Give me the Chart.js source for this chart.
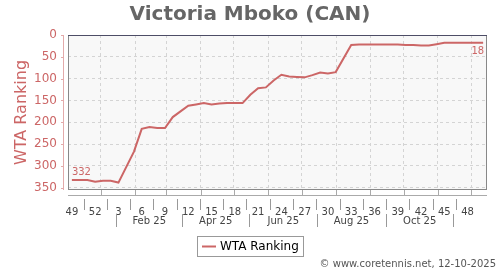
<!DOCTYPE html>
<html>
<head>
<meta charset="utf-8">
<script src="https://cdn.jsdelivr.net/npm/chart.js@4.4.1/dist/chart.umd.min.js"></script>
<style>
  html, body { margin: 0; padding: 0; background: #fff; }
</style>
</head>
<body>
<canvas id="rankChart" width="500" height="270"></canvas>
<script>
// semanas (numero ISO) de 49/2024 ate 50/2025
const weeks = [49, 50, 51, 52, 1, 2, 3, 4, 5, 6, 7, 8, 9, 10, 11, 12, 13, 14, 15, 16,
  17, 18, 19, 20, 21, 22, 23, 24, 25, 26, 27, 28, 29, 30, 31, 32, 33, 34, 35, 36,
  37, 38, 39, 40, 41, 42, 43, 44, 45, 46, 47, 48, 49, 50];
// ranking WTA por semana (null = semana sem atualizacao)
const ranking = [332, 332, 332, 336, 334, 334, 338, null, 267, 215, 211, 213, 213, 188,
  175, 162, 159, 156, 159, 157, 156, 156, 156, 137, 122, 120, 104, 91, 95, 96,
  97, 92, 86, 88, 85, null, 23, 22, 22, 22, 22, 22, 22, 23, 23, 24, 24, 21,
  18, 18, 18, 18, 18, 18];
const yTicks = [0, 50, 100, 150, 200, 250, 300, 350];
const labelEvery = 3;
// inicio de cada mes, em unidades de semana (indice)
const monthStarts = [3.75, 8.18, 12.18, 16.61, 20.89, 25.32, 29.61, 34.04, 38.46, 42.75, 47.18, 51.46];
// meio dos meses impares -> separadores da segunda linha
const monthBreaks = [5.75, 14.18, 22.89, 31.61, 40.46, 49.18];
const monthLabels = ['Feb 25', 'Apr 25', 'Jun 25', 'Aug 25', 'Oct 25'];

const rosy = '#cc6666';
const gridColor = '#d4d4d4';
const FONT = "'DejaVu Sans', sans-serif";
Chart.defaults.font.family = FONT;

const points = ranking.map((r, i) => ({ x: i, y: r }));
const tickIdx = weeks.map((w, i) => i).filter(i => i % labelEvery === 0);

const decor = {
    id: 'decor',
    beforeDraw(chart) {
        const { ctx, chartArea: a } = chart;
        ctx.save();
        ctx.fillStyle = '#fff';
        ctx.fillRect(0, 0, chart.width, chart.height);
        ctx.fillStyle = '#f8f8f8';
        ctx.fillRect(a.left, a.top, a.right - a.left, a.bottom - a.top);
        ctx.restore();
    },
    afterDraw(chart) {
        const { ctx, chartArea: a } = chart;
        const xs = chart.scales.x, ys = chart.scales.y;
        ctx.save();

        // moldura do grafico
        ctx.strokeStyle = '#888';
        ctx.lineWidth = 1;
        ctx.strokeRect(a.left + 0.5, a.top + 0.5, a.right - a.left - 1, a.bottom - a.top - 1);
        ctx.strokeStyle = '#4d4d66';
        ctx.beginPath(); ctx.moveTo(a.left, a.top + 0.5); ctx.lineTo(a.right, a.top + 0.5); ctx.stroke();

        // eixo y (linha rosada deslocada)
        ctx.strokeStyle = '#e3aaaa';
        ctx.beginPath(); ctx.moveTo(a.left - 4.5, a.top); ctx.lineTo(a.left - 4.5, a.bottom); ctx.stroke();
        yTicks.forEach(v => {
            const py = Math.round(ys.getPixelForValue(v)) + 0.5;
            ctx.beginPath(); ctx.moveTo(a.left - 7, py); ctx.lineTo(a.left - 4, py); ctx.stroke();
        });

        // eixo x
        ctx.strokeStyle = '#aaa';
        ctx.beginPath(); ctx.moveTo(a.left, a.bottom + 5.5); ctx.lineTo(a.right, a.bottom + 5.5); ctx.stroke();
        monthStarts.forEach(v => {
            const px = Math.round(xs.getPixelForValue(v)) + 0.5;
            ctx.beginPath(); ctx.moveTo(px, a.bottom); ctx.lineTo(px, a.bottom + 5); ctx.stroke();
        });

        // separadores entre semanas
        ctx.strokeStyle = '#999';
        tickIdx.slice(0, -1).forEach(i => {
            const px = Math.round(xs.getPixelForValue(i + labelEvery / 2)) + 0.5;
            ctx.beginPath(); ctx.moveTo(px, a.bottom + 9); ctx.lineTo(px, a.bottom + 20); ctx.stroke();
        });

        // linha dos meses
        monthBreaks.forEach(v => {
            const px = Math.round(xs.getPixelForValue(v)) + 0.5;
            ctx.beginPath(); ctx.moveTo(px, a.bottom + 24); ctx.lineTo(px, a.bottom + 37); ctx.stroke();
        });
        ctx.fillStyle = '#444';
        ctx.font = '10px ' + FONT;
        ctx.textAlign = 'center';
        ctx.textBaseline = 'middle';
        monthLabels.forEach((m, k) => {
            const mid = (monthBreaks[k] + monthBreaks[k + 1]) / 2;
            ctx.fillText(m, xs.getPixelForValue(mid), a.bottom + 31);
        });

        // rotulos primeiro / ultimo ponto
        const last = ranking.length - 1;
        ctx.fillStyle = rosy;
        ctx.font = '10px ' + FONT;
        ctx.textAlign = 'left';
        ctx.fillText(String(ranking[0]), xs.getPixelForValue(0), ys.getPixelForValue(ranking[0]) - 8);
        ctx.textAlign = 'right';
        ctx.fillText(String(ranking[last]), xs.getPixelForValue(last) + 1, ys.getPixelForValue(ranking[last]) + 9);

        // titulo
        ctx.fillStyle = '#666';
        ctx.font = 'bold 20px ' + FONT;
        ctx.textAlign = 'center';
        ctx.textBaseline = 'alphabetic';
        ctx.fillText('Victoria Mboko (CAN)', 250, 20);

        // legenda
        const ds = chart.data.datasets[0];
        ctx.fillStyle = '#fff';
        ctx.fillRect(197, 236, 106, 20);
        ctx.strokeStyle = '#999';
        ctx.strokeRect(197.5, 236.5, 106, 20);
        ctx.strokeStyle = ds.borderColor;
        ctx.lineWidth = 2;
        ctx.beginPath(); ctx.moveTo(202, 246.5); ctx.lineTo(216, 246.5); ctx.stroke();
        ctx.fillStyle = '#000';
        ctx.font = '12px ' + FONT;
        ctx.textAlign = 'left';
        ctx.textBaseline = 'middle';
        ctx.fillText(ds.label, 220, 246.5);

        // copyright
        ctx.fillStyle = '#555';
        ctx.font = '10px ' + FONT;
        ctx.textAlign = 'right';
        ctx.fillText('\u00a9 www.coretennis.net, 12-10-2025', 496, 264);
        ctx.restore();
    }
};

new Chart(document.getElementById('rankChart'), {
    type: 'line',
    data: {
        datasets: [{
            label: 'WTA Ranking',
            data: points,
            borderColor: rosy,
            borderWidth: 2,
            pointRadius: 0,
            tension: 0,
            spanGaps: true,
            fill: false
        }]
    },
    options: {
        responsive: false,
        animation: false,
        devicePixelRatio: 1,
        layout: { padding: { top: 35, right: 13, bottom: 0, left: 0 } },
        plugins: {
            legend: { display: false },
            tooltip: { enabled: false },
            title: { display: false }
        },
        scales: {
            x: {
                type: 'linear',
                min: -0.5,
                max: 53.5,
                grid: { display: false },
                border: { display: false },
                afterBuildTicks: s => { s.ticks = tickIdx.map(v => ({ value: v })); },
                afterFit: s => { s.height = 80; },
                ticks: {
                    font: { size: 10 },
                    color: '#444',
                    padding: 8,
                    autoSkip: false,
                    maxRotation: 0,
                    callback: v => weeks[v]
                }
            },
            months: {
                type: 'linear',
                position: 'bottom',
                min: -0.5,
                max: 53.5,
                afterBuildTicks: s => { s.ticks = monthStarts.map(v => ({ value: v })); },
                afterFit: s => { s.height = 0; },
                ticks: { display: false },
                grid: { color: gridColor, drawTicks: false },
                border: { display: false, dash: [3, 3] }
            },
            y: {
                reverse: true,
                min: 0,
                max: 355,
                afterBuildTicks: s => { s.ticks = yTicks.map(v => ({ value: v })); },
                afterFit: s => { s.width = 68; },
                ticks: { font: { size: 12 }, color: rosy, padding: 11 },
                grid: { color: gridColor, drawTicks: false },
                border: { display: false, dash: [3, 3] },
                title: {
                    display: true,
                    text: 'WTA Ranking',
                    color: rosy,
                    font: { size: 16 },
                    padding: { top: 12, bottom: 0 }
                }
            }
        }
    },
    plugins: [decor]
});
</script>
</body>
</html>
